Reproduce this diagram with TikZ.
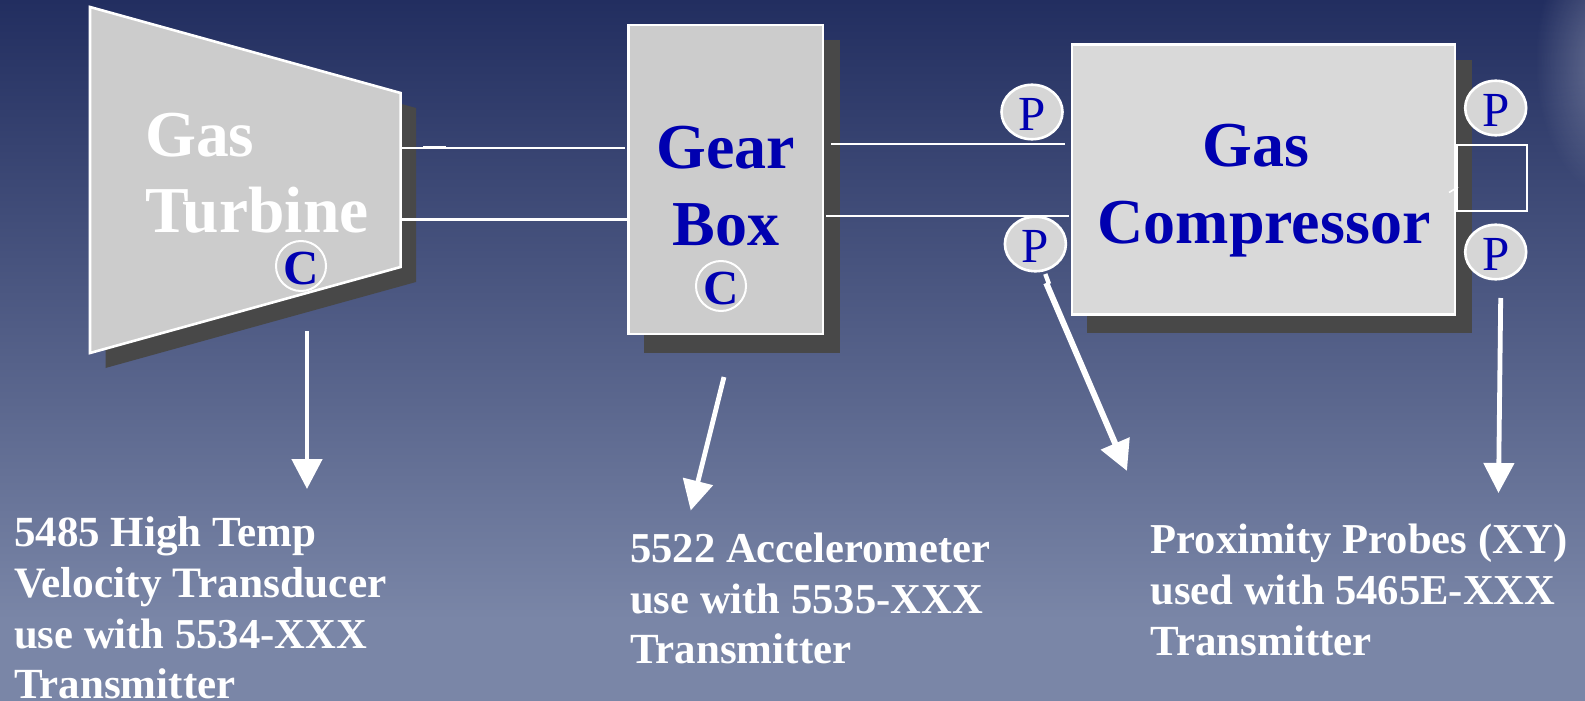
\documentclass[tikz,border=0pt]{standalone}
\usepackage{fontspec}
\setmainfont{Liberation Serif}
\usetikzlibrary{arrows.meta,shapes.geometric,fadings}
\definecolor{bgtop}{HTML}{222E60}
\definecolor{bgbot}{HTML}{7A86A7}
\definecolor{shadowc}{HTML}{484848}
\definecolor{grayA}{HTML}{CCCCCC}
\definecolor{grayB}{HTML}{D9D9D9}
\definecolor{grayC}{HTML}{D6D6D6}
\definecolor{inkblue}{HTML}{0000B0}
\newcommand\droptext[2]{\raisebox{-#1}[\height][0pt]{#2}}
\tikzfading[name=glowfade,inner color=transparent!0,outer color=transparent!100]
\tikzset{
  machine/.style={draw=white,line width=2.6pt,inner sep=0pt,outer sep=0pt},
  bigblue/.style={text=inkblue,font=\fontsize{64}{64}\selectfont\bfseries,inner sep=0pt,anchor=base},
  bigwhite/.style={text=white,font=\fontsize{65.5}{65.5}\selectfont\bfseries,inner sep=0pt,anchor=base west},
  probe/.style={ellipse,draw=white,line width=2.6pt,fill=grayC,minimum width=61pt,minimum height=54.5pt,inner sep=0pt,text=inkblue,font=\fontsize{49}{49}\selectfont},
  casep/.style={ellipse,draw=white,line width=2pt,fill=grayA,minimum width=50pt,minimum height=50pt,inner sep=0pt,text=inkblue,font=\fontsize{49}{49}\selectfont\bfseries},
  caption/.style={text=white,font=\fontsize{43}{43}\selectfont\bfseries,inner sep=0pt,anchor=base west},
  captionb/.style={caption,font=\fontsize{42.6}{43}\selectfont\bfseries},
  captionc/.style={caption,font=\fontsize{43.4}{43}\selectfont\bfseries},
  shaft/.style={draw=white,line width=2.4pt},
  callout/.style={draw=white,line width=4.8pt,-{Triangle[length=30pt,width=30pt]}},
}
\begin{document}
\begin{tikzpicture}[x=1pt,y=-1pt]
\useasboundingbox (0,0) rectangle (1585,701);
\fill[bgbot] (0,610) rectangle (1585,701);
\shade[top color=bgtop,bottom color=bgbot,draw=none] (0,0) rectangle (1585,620);
\begin{scope}
\clip (0,0) rectangle (1585,701);
\fill[white,opacity=0.3,path fading=glowfade] (1610,60) ellipse (75 and 135);
\end{scope}
% turbine
\fill[shadowc] (105.5,22) -- (416,108) -- (416,282) -- (105.5,368) -- cycle;
\draw[machine,fill=grayA,line join=miter] (90,7) -- (400.6,93) -- (400.6,267) -- (90,353) -- cycle;
% gear box
\fill[shadowc] (644,40) rectangle (840,353);
\node[machine,fill=grayA,minimum width=194.5pt,minimum height=309pt] (gear) at (725.75,179.5) {};
% compressor
\fill[shadowc] (1087,60) rectangle (1472,333);
\node[machine,fill=grayB,minimum width=383pt,minimum height=270pt] (comp) at (1263.5,179.7) {};
% loop
\node[draw=white,line width=2pt,minimum width=70pt,minimum height=66pt,inner sep=0pt] (loop) at (1492,178) {};
\coordinate (tickA) at (1449,192.5);
\coordinate (tickB) at (1458,187);
\draw[white,line width=1.6pt] (tickA) -- (tickB);
% shafts
\coordinate (ta) at (400.6,147.7); \coordinate (tb) at (625,147.7);
\coordinate (tc) at (400.6,219.3); \coordinate (td) at (628,219.3);
\draw[shaft] (ta) -- (tb);
\draw[shaft] (tc) -- (td);
\coordinate (thA) at (423,147.7); \coordinate (thB) at (446,147.7);
\draw[white,line width=3pt] (thA) -- (thB);
\coordinate (ga) at (831,143.7); \coordinate (gb) at (1064.5,143.7);
\coordinate (gc) at (826,215.7); \coordinate (gd) at (1069,215.7);
\draw[shaft] (ga) -- (gb);
\draw[shaft] (gc) -- (gd);
% probes
\node[probe] (p1) at (1032,112) {\droptext{2pt}{P}};
\node[probe] (p2) at (1035.4,244) {\droptext{2pt}{P}};
\node[probe] (p3) at (1495.7,108) {\droptext{2pt}{P}};
\node[probe] (p4) at (1495.7,252) {\droptext{2pt}{P}};
\node[casep] (c1) at (301,266) {\droptext{2pt}{C}};
\node[casep] (c2) at (721,286) {\droptext{2pt}{C}};
% titles
\node[bigwhite] (t1) at (145,156) {Gas};
\node[bigwhite] (t2) at (145,232.7) {Turbine};
\node[bigblue] (t3) at (726,168) {Gear};
\node[bigblue] (t4) at (726,245) {Box};
\node[bigblue] (t5) at (1256,166) {Gas};
\node[bigblue] (t6) at (1264,243) {Compressor};
% callouts
\coordinate (a1s) at (307,331); \coordinate (a1e) at (307,489);
\coordinate (a2s) at (724,377); \coordinate (a2e) at (690.7,510.5);
\coordinate (a3s) at (1045.3,274); \coordinate (a3m) at (1049,284);
\coordinate (a3b) at (1046.2,283); \coordinate (a3e) at (1127,471);
\coordinate (a4s) at (1500.7,298); \coordinate (a4e) at (1498.5,493);
\draw[callout] (a1s) -- (a1e);
\draw[callout] (a2s) -- (a2e);
\draw[draw=white,line width=4.4pt] (a3s) -- (a3m);
\draw[callout,line width=6pt] (a3b) -- (a3e);
\draw[callout] (a4s) -- (a4e);
% captions
\node[caption] (l11) at (14,546) {5485 High Temp};
\node[captionc] (l12) at (14,597.5) {Velocity Transducer};
\node[captionb] (l13) at (14,648) {use with 5534-XXX};
\node[caption] (l14) at (14,698.5) {Transmitter};
\node[captionb] (l21) at (630,562) {5522 Accelerometer};
\node[captionb] (l22) at (630,613) {use with 5535-XXX};
\node[caption] (l23) at (630,663.5) {Transmitter};
\node[captionb] (l31) at (1150.5,553) {Proximity Probes (XY)};
\node[captionb] (l32) at (1150.5,604.5) {used with 5465E-XXX};
\node[caption] (l33) at (1150.5,655) {Transmitter};
\end{tikzpicture}
\end{document}
